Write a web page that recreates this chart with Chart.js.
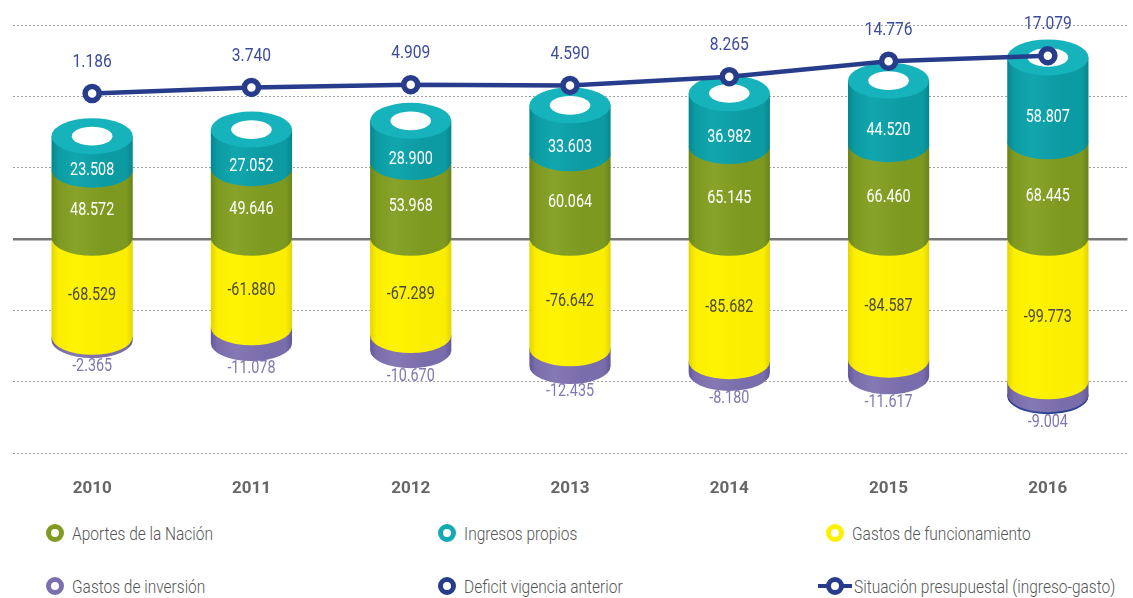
<!DOCTYPE html>
<html lang="es">
<head>
<meta charset="utf-8">
<title>Situación presupuestal 2010-2016</title>
<script src="https://cdn.jsdelivr.net/npm/chart.js@4.4.1/dist/chart.umd.min.js"></script>
<style>
  html, body { margin: 0; padding: 0; background: #fff; overflow: hidden; }
  body { width: 1133px; height: 598px; position: relative; font-family: Roboto, sans-serif; }
  #wrap { position: absolute; left: 0; top: 0; width: 1140px; height: 510px; }
  #legend { position: absolute; left: 0; top: 510px; width: 1133px; height: 88px; }
  .item { position: absolute; height: 20px; display: flex; align-items: center;
          font-size: 18px; font-weight: 300; color: #555; white-space: nowrap; }
  .item .txt { display: inline-block; transform: scaleX(0.86); transform-origin: left center; }
  .dot { width: 8px; height: 8px; border-radius: 50%; border: 5px solid; background: #fff;
         margin-right: 8px; box-sizing: content-box; }
  .lineMark { position: relative; width: 34px; height: 18px; margin-right: 2px; }
  .lineMark::before { content: ""; position: absolute; left: 0; right: 0; top: 7px; height: 4px;
                      background: var(--c); }
  .lineMark span { position: absolute; left: 8px; top: 0; width: 8px; height: 8px; border-radius: 50%;
                   border: 5px solid var(--c); background: #fff; }
</style>
</head>
<body>
<div id="wrap"><canvas id="budgetChart" width="1140" height="510"></canvas></div>
<div id="legend"></div>
<script>
const years = ["2010", "2011", "2012", "2013", "2014", "2015", "2016"];

// ingresos (positive stack)
const aportesNacion = [48572, 49646, 53968, 60064, 65145, 66460, 68445];
const ingresosPropios = [23508, 27052, 28900, 33603, 36982, 44520, 58807];

// gastos (negative stack)
const gastosFuncionamiento = [-68529, -61880, -67289, -76642, -85682, -84587, -99773];
const gastosInversion = [-2365, -11078, -10670, -12435, -8180, -11617, -9004];
const deficitAnterior = [null, null, null, null, null, null, -1396];

// ingreso - gasto
const situacion = [1186, 3740, 4909, 4590, 8265, 14776, 17079];

const FONT = "Roboto, sans-serif";
const SQUEEZE = 0.82; // horizontal squeeze for a condensed look

// body shading: edge / highlight / middle, plus the lighter cap for the top face
const palette = {
  aportes: { edge: "#68831a", light: "#88a329", mid: "#7d991f", legend: "#7f9b22" },
  ingresos: { edge: "#06868e", light: "#11a6ae", mid: "#0c9ba3", cap: "#16b3bc", legend: "#14aab3" },
  funcionamiento: { edge: "#e3d400", light: "#fff400", mid: "#fcee00", legend: "#fff000" },
  inversion: { edge: "#63579a", light: "#8579b4", mid: "#7a6dab", legend: "#7c6fae" },
  deficit: { edge: "#27367f", light: "#34479a", mid: "#2f4090", legend: "#283c8c" },
  situacion: { legend: "#283c8c" }
};

function fmt(v) {
  const s = String(Math.abs(v)).replace(/\B(?=(\d{3})+(?!\d))/g, ".");
  return (v < 0 ? "-" : "") + s;
}

function squeezedText(ctx, text, x, y) {
  ctx.save();
  ctx.translate(x, y);
  ctx.scale(SQUEEZE, 1);
  ctx.fillText(text, 0, 0);
  ctx.restore();
}

const RY = 18;

// draws every stacked bar as a cylinder, using the bar elements' geometry
const cylinderPlugin = {
  id: "cylinders",
  beforeDatasetsDraw(chart) {
    const ctx = chart.ctx;
    const barSets = chart.data.datasets
      .map((ds, i) => ({ ds, meta: chart.getDatasetMeta(i) }))
      .filter(o => o.ds.type === "bar");

    for (let i = 0; i < years.length; i++) {
      const segs = [];
      barSets.forEach(({ ds, meta }) => {
        const v = ds.data[i];
        if (v === null || v === 0) return;
        const el = meta.data[i];
        segs.push({
          x: el.x, r: el.width / 2,
          top: Math.min(el.y, el.base), bot: Math.max(el.y, el.base),
          col: palette[ds.key]
        });
      });
      if (!segs.length) continue;
      segs.sort((a, b) => b.bot - a.bot);

      segs.forEach(s => {
        const g = ctx.createLinearGradient(s.x - s.r, 0, s.x + s.r, 0);
        g.addColorStop(0, s.col.edge);
        g.addColorStop(0.08, s.col.mid);
        g.addColorStop(0.3, s.col.light);
        g.addColorStop(0.65, s.col.mid);
        g.addColorStop(0.92, s.col.mid);
        g.addColorStop(1, s.col.edge);
        ctx.save();
        ctx.beginPath();
        ctx.moveTo(s.x - s.r, s.top);
        ctx.lineTo(s.x - s.r, s.bot);
        ctx.ellipse(s.x, s.bot, s.r, RY, 0, Math.PI, 0, true);
        ctx.lineTo(s.x + s.r, s.top);
        ctx.closePath();
        ctx.fillStyle = g;
        ctx.fill();
        ctx.restore();
      });

      // cap with a hole on the highest segment
      const topSeg = segs[segs.length - 1];
      ctx.save();
      ctx.beginPath();
      ctx.ellipse(topSeg.x, topSeg.top, topSeg.r, RY, 0, 0, Math.PI * 2);
      ctx.fillStyle = palette.ingresos.cap;
      ctx.fill();
      ctx.beginPath();
      ctx.ellipse(topSeg.x, topSeg.top, topSeg.r * 0.5, RY * 0.52, 0, 0, Math.PI * 2);
      ctx.fillStyle = "#fff";
      ctx.fill();
      ctx.restore();
    }
  },
  afterDatasetsDraw(chart) {
    const ctx = chart.ctx;
    ctx.save();
    ctx.textAlign = "center";
    ctx.textBaseline = "middle";
    chart.data.datasets.forEach((ds, d) => {
      const meta = chart.getDatasetMeta(d);
      if (!ds.labelStyle) return;
      ds.data.forEach((v, i) => {
        if (v === null) return;
        const el = meta.data[i];
        let y;
        if (ds.type === "line") {
          y = el.y - 31;
        } else {
          const top = Math.min(el.y, el.base), bot = Math.max(el.y, el.base);
          if (ds.labelStyle === "cap") y = (top + bot) / 2 + RY;
          else if (ds.labelStyle === "below") {
            // under the whole negative stack
            let low = bot;
            chart.data.datasets.forEach((o, k) => {
              if (o.type === "bar" && o.data[i] !== null && o.data[i] < 0) {
                const e = chart.getDatasetMeta(k).data[i];
                low = Math.max(low, e.y, e.base);
              }
            });
            y = low + RY + 8;
          } else y = (top + bot) / 2 + 7;
        }
        ctx.font = (ds.type === "line" ? "19px " : "17.5px ") + FONT;
        ctx.fillStyle = ds.labelColor;
        squeezedText(ctx, fmt(v), el.x, y);
      });
    });
    ctx.restore();
  }
};

const bar = (key, label, data, labelStyle, labelColor) => ({
  type: "bar", key, label, data, labelStyle, labelColor,
  backgroundColor: "rgba(0,0,0,0)", borderWidth: 0,
  stack: "total", order: 1,
  categoryPercentage: 1, barPercentage: 0.51
});

new Chart(document.getElementById("budgetChart"), {
  data: {
    labels: years,
    datasets: [
      bar("aportes", "Aportes de la Nación", aportesNacion, "mid", "#ffffff"),
      bar("ingresos", "Ingresos propios", ingresosPropios, "cap", "#ffffff"),
      bar("funcionamiento", "Gastos de funcionamiento", gastosFuncionamiento, "mid", "#4a4a3c"),
      bar("inversion", "Gastos de inversión", gastosInversion, "below", "#8177b4"),
      bar("deficit", "Deficit vigencia anterior", deficitAnterior, null, null),
      {
        type: "line", key: "situacion", label: "Situación presupuestal (ingreso-gasto)",
        data: situacion, yAxisID: "y2", order: 0,
        labelStyle: "above", labelColor: "#3c4c9c",
        borderColor: "#283c8c", borderWidth: 4.5,
        pointRadius: 7, pointBorderWidth: 5.5,
        pointBackgroundColor: "#ffffff", pointBorderColor: "#283c8c",
        tension: 0
      }
    ]
  },
  options: {
    responsive: false,
    animation: false,
    layout: { padding: { top: 25, left: 7, right: 3, bottom: 0 } },
    plugins: { legend: { display: false }, tooltip: { enabled: false } },
    scales: {
      x: {
        stacked: true,
        grid: { display: false, drawTicks: false },
        border: { display: false },
        ticks: { padding: 26, color: "#666", font: { family: FONT, size: 17, weight: "bold" } },
        afterFit: s => { s.height = 57; }
      },
      y: {
        stacked: true,
        min: -150000, max: 150000,
        ticks: { display: false, stepSize: 50000 },
        grid: {
          drawTicks: false,
          color: c => (c.tick && c.tick.value === 0 ? "#777777" : "#a0a0a0"),
          lineWidth: c => (c.tick && c.tick.value === 0 ? 2.5 : 1)
        },
        border: { display: false, dash: c => (c.tick && c.tick.value === 0 ? [] : [2, 2]) },
        afterFit: s => { s.width = 0; }
      },
      y2: { display: false, min: -150000, max: 30000 }
    }
  },
  plugins: [cylinderPlugin]
});

// legend laid out in three columns
const legendItems = [
  { label: "Aportes de la Nación", color: palette.aportes.legend, x: 46, y: 23 },
  { label: "Ingresos propios", color: palette.ingresos.legend, x: 438, y: 23 },
  { label: "Gastos de funcionamiento", color: palette.funcionamiento.legend, x: 826, y: 23 },
  { label: "Gastos de inversión", color: palette.inversion.legend, x: 46, y: 76 },
  { label: "Deficit vigencia anterior", color: palette.deficit.legend, x: 438, y: 76 },
  { label: "Situación presupuestal (ingreso-gasto)", color: palette.situacion.legend, x: 818, y: 76, line: true }
];
const legendEl = document.getElementById("legend");
legendItems.forEach(it => {
  const div = document.createElement("div");
  div.className = "item";
  div.style.left = it.x + "px";
  div.style.top = (it.y - 10) + "px";
  const mark = document.createElement("span");
  if (it.line) {
    mark.className = "lineMark";
    mark.style.setProperty("--c", it.color);
    mark.appendChild(document.createElement("span"));
  } else {
    mark.className = "dot";
    mark.style.borderColor = it.color;
  }
  div.appendChild(mark);
  const txt = document.createElement("span");
  txt.className = "txt";
  txt.textContent = it.label;
  div.appendChild(txt);
  legendEl.appendChild(div);
});
</script>
</body>
</html>
